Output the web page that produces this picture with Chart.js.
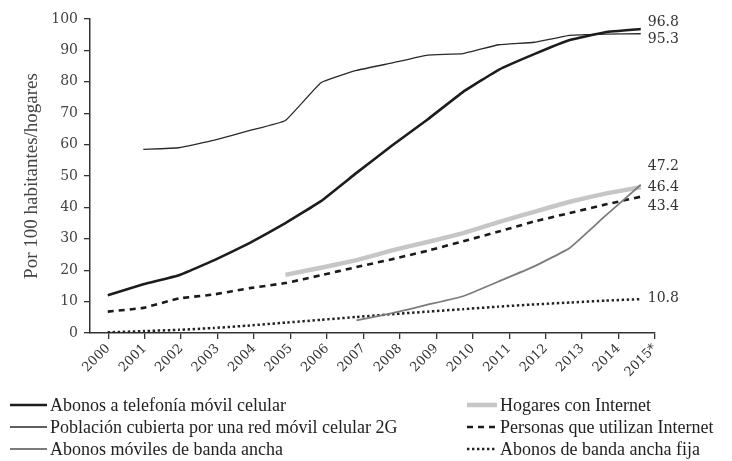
<!DOCTYPE html>
<html>
<head>
<meta charset="utf-8">
<script src="https://cdn.jsdelivr.net/npm/chart.js@4"></script>
<style>
  html, body { margin: 0; padding: 0; background: #fff; }
  #wrap { width: 732px; height: 461px; position: relative; }
</style>
</head>
<body>
<div id="wrap"><canvas id="chart" width="732" height="461"></canvas></div>
<script>
const years = [2000, 2001, 2002, 2003, 2004, 2005, 2006, 2007, 2008, 2009, 2010, 2011, 2012, 2013, 2014, 2015];
const yearLabels = ['2000', '2001', '2002', '2003', '2004', '2005', '2006', '2007', '2008', '2009', '2010', '2011', '2012', '2013', '2014', '2015*'];
const yTicks = [0, 10, 20, 30, 40, 50, 60, 70, 80, 90, 100];

const telefonia = [12.0, 15.5, 18.4, 23.2, 28.7, 35.0, 42.0, 51.0, 59.7, 68.0, 76.8, 83.8, 88.8, 93.3, 95.8, 96.8];
const cobertura2G = [null, 58.5, 59.0, 61.4, 64.5, 67.7, 79.7, 83.6, 86.0, 88.5, 89.0, 91.8, 92.6, 94.8, 95.2, 95.3];
const movilesBanda = [null, null, null, null, null, null, null, 4.0, 6.3, 9.0, 11.7, 16.4, 21.2, 27.1, 37.3, 47.2];
const hogares = [null, null, null, null, null, 18.5, 20.8, 23.2, 26.3, 29.0, 31.8, 35.3, 38.6, 41.8, 44.4, 46.4];
const personas = [6.8, 8.0, 11.0, 12.3, 14.3, 15.9, 18.4, 21.0, 23.5, 26.2, 29.2, 32.3, 35.5, 38.2, 40.9, 43.4];
const bandaFija = [0.2, 0.6, 1.0, 1.6, 2.4, 3.3, 4.2, 5.1, 6.0, 6.8, 7.6, 8.4, 9.1, 9.7, 10.3, 10.8];

const seriesNames = [
    'Abonos a telefonía móvil celular',
    'Población cubierta por una red móvil celular 2G',
    'Abonos móviles de banda ancha',
    'Hogares con Internet',
    'Personas que utilizan Internet',
    'Abonos de banda ancha fija'
];
// vertical nudge (px) of the end labels so they do not collide
const endLabelShift = [-7, 6, -18, 0, 10, -1];

const serif = "'DejaVu Serif', serif";
const narrowSerif = "'Liberation Serif', serif";

function points(vals) {
    return years.map((yr, i) => ({ x: yr, y: vals[i] })).filter(p => p.y !== null);
}

const styles = [
    { borderColor: '#1c1c1c', borderWidth: 2.6 },
    { borderColor: '#2a2a2a', borderWidth: 1.3 },
    { borderColor: '#7c7c7c', borderWidth: 1.8 },
    { borderColor: '#c6c6c6', borderWidth: 4.5 },
    { borderColor: '#1a1a1a', borderWidth: 2.6, borderDash: [6, 5] },
    { borderColor: '#222222', borderWidth: 2.5, borderDash: [2.4, 2.6] }
];

const seriesData = [telefonia, cobertura2G, movilesBanda, hogares, personas, bandaFija];

const endLabels = {
    id: 'endLabels',
    afterDatasetsDraw(chart) {
        const ctx = chart.ctx;
        ctx.save();
        ctx.font = '14px ' + serif;
        ctx.fillStyle = '#333';
        ctx.textBaseline = 'middle';
        chart.data.datasets.forEach((ds, i) => {
            const meta = chart.getDatasetMeta(i);
            const last = meta.data[meta.data.length - 1];
            const v = ds.data[ds.data.length - 1].y;
            ctx.fillText(v.toFixed(1), last.x + 7, last.y + endLabelShift[i]);
        });
        ctx.restore();
    }
};

// two-column legend under the axis (column-wise order like the original)
const sideLegend = {
    id: 'sideLegend',
    afterDraw(chart) {
        const ctx = chart.ctx;
        ctx.save();
        ctx.font = '18px ' + narrowSerif;
        ctx.textBaseline = 'middle';
        chart.data.datasets.forEach((ds, i) => {
            const col = i < 3 ? 0 : 1;
            const row = i % 3;
            const y = 405 + row * 22;
            const x0 = col === 0 ? 10 : 467;
            const x1 = col === 0 ? 47 : 497;
            ctx.strokeStyle = ds.borderColor;
            ctx.lineWidth = ds.borderWidth;
            ctx.setLineDash(ds.borderDash || []);
            ctx.beginPath();
            ctx.moveTo(x0, y);
            ctx.lineTo(x1, y);
            ctx.stroke();
            ctx.setLineDash([]);
            ctx.fillStyle = '#222';
            ctx.fillText(ds.label, x1 + 3, y + 1);
        });
        ctx.restore();
    }
};

new Chart(document.getElementById('chart'), {
    type: 'line',
    data: {
        datasets: seriesData.map((vals, i) => Object.assign({
            label: seriesNames[i],
            data: points(vals),
            xAxisID: 'x',
            yAxisID: 'y',
            pointRadius: 0,
            tension: 0.1,
            fill: false,
            borderCapStyle: 'butt'
        }, styles[i]))
    },
    options: {
        responsive: false,
        animation: false,
        layout: { padding: { top: 19, right: 77, bottom: 71, left: 0 } },
        plugins: {
            legend: { display: false },
            tooltip: { enabled: false }
        },
        scales: {
            x: {
                type: 'linear',
                display: false,
                min: 1999.5,
                max: 2015.4
            },
            xt: {
                type: 'linear',
                position: 'bottom',
                min: 1999.5,
                max: 2015,
                afterBuildTicks: s => { s.ticks = years.map(v => ({ value: v })); },
                afterFit: s => { s.height = 57; },
                grid: { drawOnChartArea: false, drawTicks: true, tickLength: 6, color: '#333', lineWidth: 1.3 },
                border: { display: true, color: '#333', width: 1.5 },
                ticks: {
                    autoSkip: false,
                    minRotation: 45,
                    maxRotation: 45,
                    padding: 2,
                    color: '#333',
                    font: { family: serif, size: 13 },
                    callback: (v) => yearLabels[years.indexOf(v)]
                }
            },
            y: {
                min: 0,
                max: 100,
                afterBuildTicks: s => { s.ticks = yTicks.map(v => ({ value: v })); },
                afterFit: s => { s.width = 90; },
                grid: { drawOnChartArea: false, drawTicks: true, tickLength: 6, color: '#333', lineWidth: 1.3 },
                border: { display: true, color: '#333', width: 1.5 },
                ticks: {
                    padding: 6,
                    color: '#444',
                    font: { family: serif, size: 14 }
                },
                title: {
                    display: true,
                    text: 'Por 100 habitantes/hogares',
                    color: '#444',
                    padding: { top: 21 },
                    font: { family: narrowSerif, size: 19 }
                }
            }
        }
    },
    plugins: [endLabels, sideLegend]
});
</script>
</body>
</html>
